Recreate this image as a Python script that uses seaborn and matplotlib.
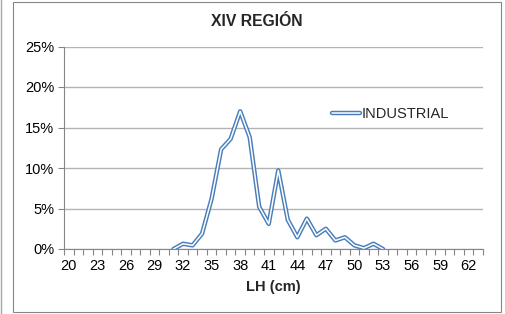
import numpy as np
import pandas as pd
from matplotlib import pyplot as plt
from matplotlib import patheffects as pe
from matplotlib.patches import Rectangle
from matplotlib.lines import Line2D
import seaborn as sns

# category axis runs 20..63, data only between 31 and 53
categories = list(range(20, 64))
lh_values = list(range(31, 54))
industrial = [0.0, 0.65, 0.45, 1.9, 6.2, 12.3, 13.6, 17.0, 13.8, 5.2, 3.1, 9.7,
              3.6, 1.45, 3.75, 1.7, 2.5, 1.05, 1.45, 0.45, 0.1, 0.65, 0.0]
tick_labels = [str(v) for v in range(20, 63, 3)]
y_ticks = [0, 5, 10, 15, 20, 25]

sns.set_theme(style='white')
plt.rcParams['font.family'] = ['Liberation Sans', 'DejaVu Sans']

data = pd.DataFrame({'LH (cm)': lh_values, 'INDUSTRIAL': industrial})

fig = plt.figure(figsize=(5.05, 3.14), dpi=100)
fig.patch.set_facecolor('white')
ax = fig.add_axes([64 / 505, 1 - 249 / 314, 419 / 505, (249 - 46.5) / 314])

blue = '#4a7ebb'
double = [pe.Stroke(linewidth=3.2, foreground=blue), pe.Normal()]
sns.lineplot(data=data, x='LH (cm)', y='INDUSTRIAL', color='white', lw=1.1,
             ax=ax, label='INDUSTRIAL', path_effects=double)

ax.set_xlim(categories[0] - 0.5, categories[-1] + 0.5)
ax.set_ylim(0, 25)
ax.set_yticks(y_ticks)
ax.set_yticklabels([f'{v}%' for v in y_ticks], fontsize=10.5, color='black')
ax.set_xticks(range(20, 63, 3))
ax.set_xticklabels(tick_labels, fontsize=10.5, color='black')
ax.set_xticks(np.arange(categories[0] - 0.5, categories[-1] + 1), minor=True)
ax.tick_params(axis='x', which='major', length=0, pad=7)
ax.tick_params(axis='x', which='minor', length=4, width=0.8, color='#868686', bottom=True)
ax.tick_params(axis='y', length=4, width=0.8, color='#868686', left=True, pad=3)

ax.grid(axis='y', color='#b3b3b3', lw=1.0)
ax.set_axisbelow(True)
for side in ['top', 'right']:
    ax.spines[side].set_visible(False)
for side in ['left', 'bottom']:
    ax.spines[side].set_color('#868686')
    ax.spines[side].set_linewidth(0.8)

ax.set_xlabel('LH (cm)', fontsize=10.5, fontweight='bold', labelpad=5)
ax.set_ylabel('')
fig.text(257 / 505, 1 - 21 / 314, 'XIV REGIÓN', ha='center', va='center',
         fontsize=11.3, fontweight='bold')

ax.legend(loc='center left', bbox_to_anchor=(332 / 505, 1 - 114 / 314),
          bbox_transform=fig.transFigure, frameon=False, fontsize=10.5,
          handlelength=1.9, handletextpad=0.15, borderaxespad=0, borderpad=0)

# chart frame like the spreadsheet export
fig.patches.append(Rectangle((13 / 505, 2 / 314), 488 / 505, 310 / 314,
                             transform=fig.transFigure, fill=False,
                             edgecolor='#868686', lw=0.8))
fig.lines.append(Line2D([1 / 505, 1 / 505], [0, 1], transform=fig.transFigure,
                        color='#a6a6a6', lw=1.0))

fig.savefig('out.png', dpi=100)
plt.close()
